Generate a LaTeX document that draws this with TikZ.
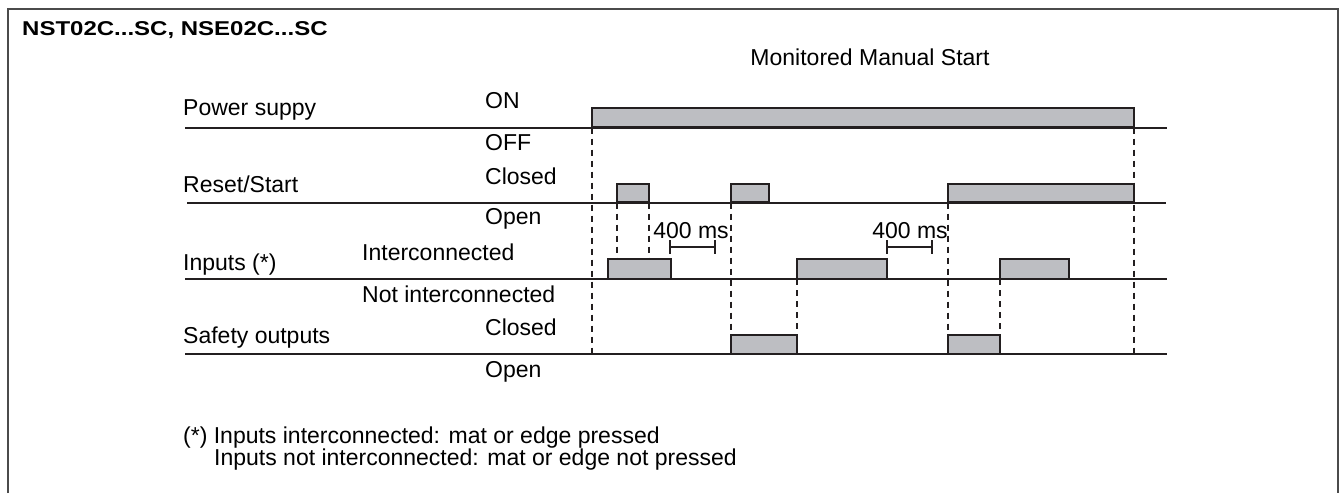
\documentclass[tikz,border=0pt]{standalone}
\usepackage{fontspec}
\setmainfont{Liberation Sans}
\newfontfamily\titlefont[FakeStretch=1.2]{Liberation Sans}

\definecolor{linedark}{RGB}{35,31,32}
\definecolor{pulsefill}{RGB}{189,190,194}
\definecolor{framegray}{RGB}{75,75,75}

\tikzset{
	sigline/.style={draw=linedark, line width=2pt},
	pulse/.style={draw=linedark, fill=pulsefill, line width=2.2pt},
	guide/.style={draw=linedark, line width=1.1pt, dash pattern=on 6pt off 5pt},
	lbl/.style={anchor=base west, inner sep=0pt, font=\fontsize{23}{27}\selectfont},
}

\begin{document}
\begin{tikzpicture}[x=1pt, y=-1pt]
				\useasboundingbox (0,0) rectangle (1343,493);
				
				% Рамка
				\draw[framegray, line width=2pt] (7.5,493) -- (7.5,9) -- (1338,9) -- (1338,493);
				
				% Заголовки
				\node[lbl, font=\titlefont\bfseries\fontsize{20}{24}\selectfont] (title) at (22,35) {NST02C...SC, NSE02C...SC};
				\node[lbl, anchor=base] (mode) at (870,65) {Monitored Manual Start};
				
				% Базовые линии сигналов
				\coordinate (pwrL) at (185,127.5);
				\coordinate (pwrR) at (1167,127.5);
				\coordinate (rstL) at (187,202.5);
				\coordinate (rstR) at (1166,202.5);
				\coordinate (inpL) at (185,279);
				\coordinate (inpR) at (1167,279);
				\coordinate (outL) at (185,354);
				\coordinate (outR) at (1167,354);
				
				% Импульсы
				\draw[pulse] (592,127.5) rectangle (1134,108);
				\draw[pulse] (617,202.5) rectangle (649,184);
				\draw[pulse] (731,202.5) rectangle (769,184);
				\draw[pulse] (948,202.5) rectangle (1134,184);
				\draw[pulse] (608,279) rectangle (671,259);
				\draw[pulse] (797,279) rectangle (887,259);
				\draw[pulse] (1000,279) rectangle (1069,259);
				\draw[pulse] (731,354) rectangle (797,335);
				\draw[pulse] (948,354) rectangle (1000,335);
				
				\draw[sigline] (pwrL) -- (pwrR);
				\draw[sigline] (rstL) -- (rstR);
				\draw[sigline] (inpL) -- (inpR);
				\draw[sigline] (outL) -- (outR);
				
				% Пунктирные линии
				\draw[guide] (592,127.5) -- (592,354);
				\draw[guide] (617,202.5) -- (617,259);
				\draw[guide] (649,202.5) -- (649,259);
				\draw[guide] (731,202.5) -- (731,335);
				\draw[guide] (797,279) -- (797,335);
				\draw[guide] (948,202.5) -- (948,335);
				\draw[guide] (1000,279) -- (1000,335);
				\draw[guide] (1134,127.5) -- (1134,354);
				
				% Интервалы 400 ms
				\draw[sigline, line width=1.4pt] (670,240) -- (670,254) (670,247) -- (715,247) (715,240) -- (715,254);
				\draw[sigline, line width=1.4pt] (887,240) -- (887,254) (887,247) -- (932,247) (932,240) -- (932,254);
				\node[lbl, anchor=base] (gapA) at (691,238) {400 ms};
				\node[lbl, anchor=base] (gapB) at (910,238) {400 ms};
				
				% Подписи строк
				\node[lbl] (pwr) at (183,115) {Power suppy};
				\node[lbl] (rst) at (183,192) {Reset/Start};
				\node[lbl] (inp) at (183,270) {Inputs (*)};
				\node[lbl] (out) at (183,343) {Safety outputs};
				
				% Подписи состояний
				\node[lbl] (pwrOn) at (485,108) {ON};
				\node[lbl] (pwrOff) at (485,150) {OFF};
				\node[lbl] (rstClosed) at (485,184) {Closed};
				\node[lbl] (rstOpen) at (485,224) {Open};
				\node[lbl] (inpYes) at (362,260) {Interconnected};
				\node[lbl] (inpNo) at (362,302) {Not interconnected};
				\node[lbl] (outClosed) at (485,335) {Closed};
				\node[lbl] (outOpen) at (485,377) {Open};
				
				% Примечание
				\node[lbl] (noteA) at (183,443) {(*) Inputs interconnected: mat or edge pressed};
				\node[lbl] (noteB) at (214,465) {Inputs not interconnected: mat or edge not pressed};
			\end{tikzpicture}
\end{document}
